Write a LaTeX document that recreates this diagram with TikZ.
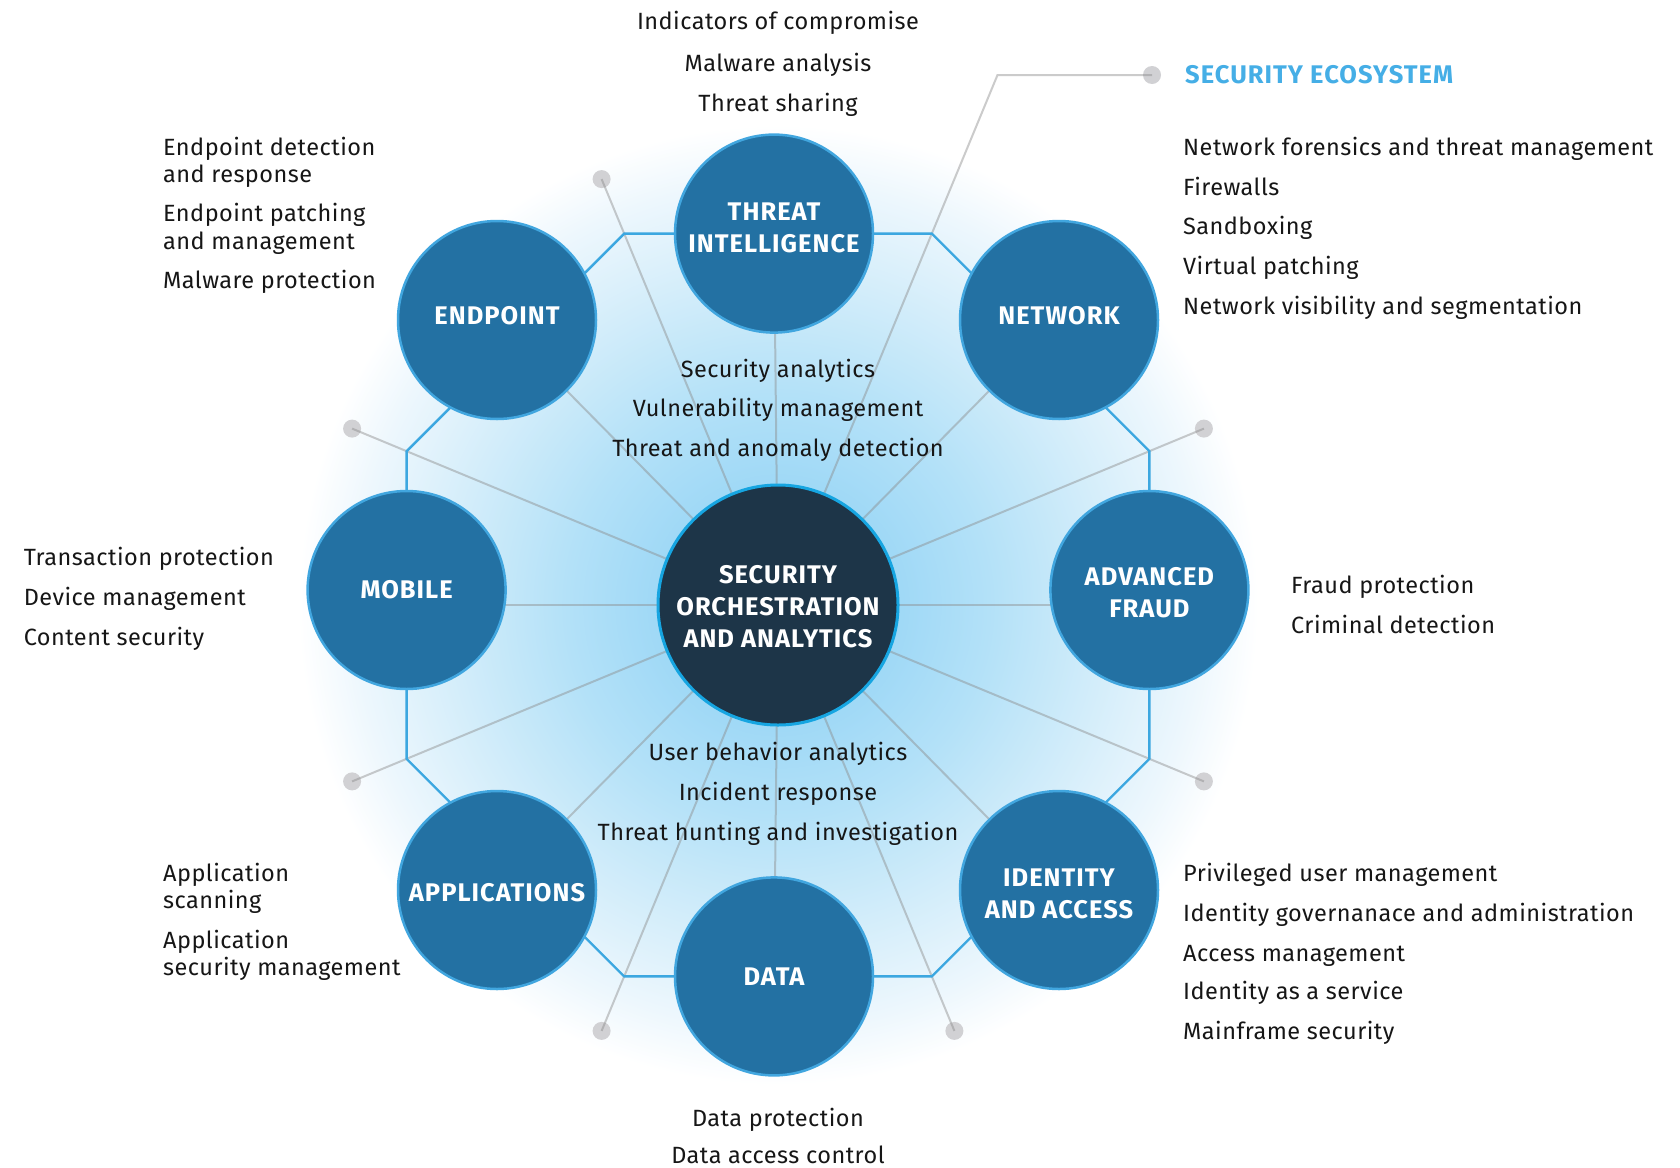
\documentclass[tikz,border=0pt]{standalone}
\usepackage{fontspec}
\setmainfont{Fira Sans}[LetterSpace=2]
\newfontfamily\labfont{Fira Sans}[LetterSpace=4]
\definecolor{cfill}{HTML}{2371A3}
\definecolor{cborder}{HTML}{41A6DF}
\definecolor{cdark}{HTML}{1D3548}
\definecolor{cdarkb}{HTML}{16A5E1}
\definecolor{octc}{HTML}{3CA7E0}
\definecolor{spokec}{HTML}{8C8C8C}
\definecolor{dotc}{HTML}{D1D1D4}
\definecolor{txt}{HTML}{161616}
\definecolor{eco}{HTML}{45AEE6}
\definecolor{glowA}{HTML}{9ED8F6}
\definecolor{glowB}{HTML}{B3E1F8}
\definecolor{glowC}{HTML}{D3EDFA}
\definecolor{glowD}{HTML}{EDF7FD}
\pgfdeclareradialshading{glow}{\pgfpoint{0bp}{0bp}}{color(0bp)=(glowA); color(6bp)=(glowA); color(11bp)=(glowB); color(17bp)=(glowC); color(22bp)=(glowD); color(25bp)=(white); color(50bp)=(white)}
\begin{document}
\begin{tikzpicture}[x=1pt,y=-1pt,
  outer/.style={circle, fill=cfill, draw=cborder, line width=2.5pt, minimum size=198pt, inner sep=0pt},
  hub/.style={circle, fill=cdark, draw=cdarkb, line width=3pt, minimum size=240pt, inner sep=0pt},
  lab/.style={inner sep=0pt, text=white, align=center, font=\labfont\bfseries\fontsize{25.5}{32}\selectfont},
  item/.style={anchor=base west, inner sep=0pt, text=txt, font=\fontsize{23.5}{26}\selectfont},
  itemc/.style={anchor=base, inner sep=0pt, text=txt, font=\fontsize{23.5}{26}\selectfont},
  spoke/.style={draw=spokec, line width=2pt, opacity=0.45},
  ring/.style={draw=octc, line width=2.4pt, line join=miter},
  dotn/.style={circle, fill=dotc, minimum size=18pt, inner sep=0pt}
]
\useasboundingbox (0,0) rectangle (1680,1167);
\fill[white] (0,0) rectangle (1680,1167);

% glow
\coordinate (C) at (778,605);
\shade[shading=glow] (C) circle (480pt);

% octagon vertices
\coordinate (vtl) at (624.2,233.6);
\coordinate (vtr) at (931.8,233.6);
\coordinate (vrt) at (1149.4,451.2);
\coordinate (vrb) at (1149.4,758.8);
\coordinate (vbr) at (931.8,976.4);
\coordinate (vbl) at (624.2,976.4);
\coordinate (vlb) at (406.6,758.8);
\coordinate (vlt) at (406.6,451.2);
\coordinate (corner) at (997.5,75);

% dots
\node[dotn] (dtl) at (601.6,179.1) {};
\node[dotn] (dlt) at (352.1,428.6) {};
\node[dotn] (dlb) at (352.1,781.4) {};
\node[dotn] (dbl) at (601.6,1030.9) {};
\node[dotn] (dbr) at (954.4,1030.9) {};
\node[dotn] (drb) at (1203.9,781.4) {};
\node[dotn] (drt) at (1203.9,428.6) {};
\node[dotn] (deco) at (1152,75) {};

% circle centres
\coordinate (pti) at (774,233.6);
\coordinate (pep) at (497,320);
\coordinate (pnw) at (1059,320);
\coordinate (pmo) at (406.6,590);
\coordinate (paf) at (1149.4,590);
\coordinate (pap) at (497,890);
\coordinate (pda) at (774,976.4);
\coordinate (pid) at (1059,890);

% spokes
\foreach \p in {pti,pep,pnw,pap,pda,pid}
  \draw[spoke] (C) -- (\p);
\draw[spoke] (C) -- (C -| pmo);
\draw[spoke] (C) -- (C -| paf);
\foreach \d in {dtl,dlt,dlb,dbl,dbr,drb,drt}
  \draw[spoke] (C) -- (\d.center);
\draw[spoke] (C) -- (corner) -- (deco.center);

% ring
\draw[ring] (vtl) -- (vtr) -- (vrt) -- (vrb) -- (vbr) -- (vbl) -- (vlb) -- (vlt) -- cycle;

% circles
\node[outer] (ti) at (pti) {};
\node[outer] (ep) at (pep) {};
\node[outer] (nw) at (pnw) {};
\node[outer] (mo) at (pmo) {};
\node[outer] (af) at (paf) {};
\node[outer] (ap) at (pap) {};
\node[outer] (da) at (pda) {};
\node[outer] (id) at (pid) {};
\node[hub] (hub) at (C) {};

% circle labels
\node[lab] (til) at ([yshift=6pt]ti.center) {THREAT\\INTELLIGENCE};
\node[lab] (epl) at ([yshift=4pt]ep.center) {ENDPOINT};
\node[lab] (nwl) at ([yshift=4pt]nw.center) {NETWORK};
\node[lab] (mol) at (mo.center) {MOBILE};
\node[lab] (afl) at ([yshift=-3pt]af.center) {ADVANCED\\FRAUD};
\node[lab] (apl) at ([yshift=-3pt]ap.center) {APPLICATIONS};
\node[lab] (dal) at (da.center) {DATA};
\node[lab] (idl) at ([yshift=-4pt]id.center) {IDENTITY\\AND ACCESS};
\node[lab] (hubl) at ([yshift=-2pt]hub.center) {SECURITY\\ORCHESTRATION\\AND ANALYTICS};

% ecosystem title
\node[anchor=base west, inner sep=0pt, text=eco, font=\labfont\bfseries\fontsize{25.5}{26}\selectfont] (ecot) at (1185,83.5) {SECURITY ECOSYSTEM};

% top group
\node[itemc] (t1) at (778,29.3) {Indicators of compromise};
\node[itemc] (t2) at (778,71) {Malware analysis};
\node[itemc] (t3) at (778,111.5) {Threat sharing};

% endpoint group
\node[item] (e1) at (163,155) {Endpoint detection};
\node[item] (e2) at (163,182) {and response};
\node[item] (e3) at (163,221.5) {Endpoint patching};
\node[item] (e4) at (163,249) {and management};
\node[item] (e5) at (163,288) {Malware protection};

% network group
\node[item] (n1) at (1183,155.5) {Network forensics and threat management};
\node[item] (n2) at (1183,195) {Firewalls};
\node[item] (n3) at (1183,234.5) {Sandboxing};
\node[item] (n4) at (1183,274) {Virtual patching};
\node[item] (n5) at (1183,314) {Network visibility and segmentation};

% centre top
\node[itemc] (c1) at (778,377) {Security analytics};
\node[itemc] (c2) at (778,416.5) {Vulnerability management};
\node[itemc] (c3) at (778,456) {Threat and anomaly detection};

% centre bottom
\node[itemc] (c4) at (778,760.5) {User behavior analytics};
\node[itemc] (c5) at (778,800) {Incident response};
\node[itemc] (c6) at (778,840) {Threat hunting and investigation};

% mobile group
\node[item] (m1) at (23.6,565.5) {Transaction protection};
\node[item] (m2) at (23.6,605.5) {Device management};
\node[item] (m3) at (23.6,645) {Content security};

% fraud group
\node[item] (f1) at (1291,593.5) {Fraud protection};
\node[item] (f2) at (1291,633) {Criminal detection};

% applications group
\node[item] (a1) at (163,881.5) {Application};
\node[item] (a2) at (163,908.5) {scanning};
\node[item] (a3) at (163,948) {Application};
\node[item] (a4) at (163,975) {security management};

% identity group
\node[item] (i1) at (1183,881.5) {Privileged user management};
\node[item] (i2) at (1183,921.5) {Identity governanace and administration};
\node[item] (i3) at (1183,961) {Access management};
\node[item] (i4) at (1183,999.5) {Identity as a service};
\node[item] (i5) at (1183,1039) {Mainframe security};

% data group
\node[itemc] (g1) at (778,1126) {Data protection};
\node[itemc] (g2) at (778,1163.5) {Data access control};
\end{tikzpicture}
\end{document}
